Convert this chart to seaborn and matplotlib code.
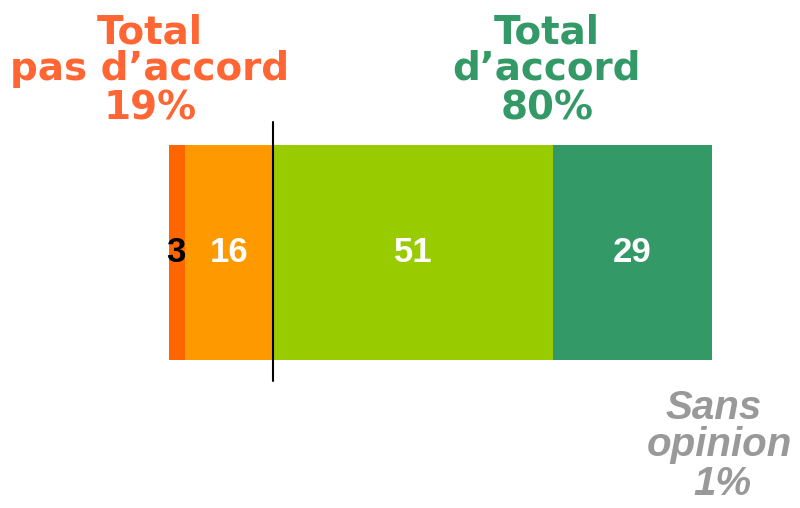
import matplotlib
matplotlib.use("Agg")
import matplotlib.pyplot as plt
import seaborn as sns
import numpy as np
import pandas as pd

# data
segments = ["Pas du tout d'accord", "Plutôt pas d'accord", "Plutôt d'accord", "Tout à fait d'accord"]
values = [3, 16, 51, 29]
colors = ["#FF6600", "#FF9900", "#99CC00", "#339966"]
label_colors = ["black", "white", "white", "white"]
total_disagree = 19
total_agree = 80
no_opinion = 1

sns.set_theme(style="white")
plt.rcParams['font.family'] = ['DejaVu Sans']

fig = plt.figure(figsize=(8, 5.08), dpi=100)
ax = fig.add_axes([0, 0, 1, 1])

cum = np.cumsum(values)
df = pd.DataFrame({"cat": ["q"] * len(values), "cum": cum, "seg": segments})

# stacked bar: draw cumulative totals from largest to smallest
for i in range(len(values) - 1, -1, -1):
    sns.barplot(data=df.iloc[[i]], x="cum", y="cat", color=colors[i],
                width=1.0, orient="h", ax=ax, saturation=1, edgecolor="none")

starts = cum - np.array(values)
for v, s, c in zip(values, starts, label_colors):
    ax.text(s + v / 2 - (0.3 if v < 5 else 0), 0.0, str(v), ha="center", va="center", color=c,
            fontsize=25, fontweight="bold", family="Liberation Sans")

# separator between disagree / agree
ax.plot([total_disagree, total_disagree], [-0.607, 0.598], color="black", lw=1.5)

# pixel mapping: 0 -> 169px, 99 -> 712px ; bar spans 145..360px
px = 543 / sum(values)
ax.set_xlim(-169 / px, (800 - 169) / px)
ax.set_ylim((508 - 252.5) / 215, -252.5 / 215)
ax.axis("off")

title_kw = dict(ha="center", va="baseline", fontsize=28, fontweight="bold",
                family="DejaVu Sans", linespacing=1.0)
fig.text(150 / 800, 1 - 43 / 508, "Total", color="#FF6633", **title_kw)
fig.text(150 / 800, 1 - 80 / 508, "pas d\u2019accord", color="#FF6633", **title_kw)
fig.text(150 / 800, 1 - 120 / 508, f"{total_disagree}%", color="#FF6633", **title_kw)

fig.text(547 / 800, 1 - 43 / 508, "Total", color="#339966", **title_kw)
fig.text(547 / 800, 1 - 80 / 508, "d\u2019accord", color="#339966", **title_kw)
fig.text(547 / 800, 1 - 120 / 508, f"{total_agree}%", color="#339966", **title_kw)

gray_kw = dict(ha="center", va="baseline", fontsize=29, fontweight="bold",
               style="italic", family="Liberation Sans", color="#999999")
fig.text(714 / 800, 1 - 419 / 508, "Sans", **gray_kw)
fig.text(719 / 800, 1 - 456 / 508, "opinion", **gray_kw)
fig.text(722 / 800, 1 - 495 / 508, f"{no_opinion}%", **gray_kw)

fig.savefig("out.png", dpi=100)
